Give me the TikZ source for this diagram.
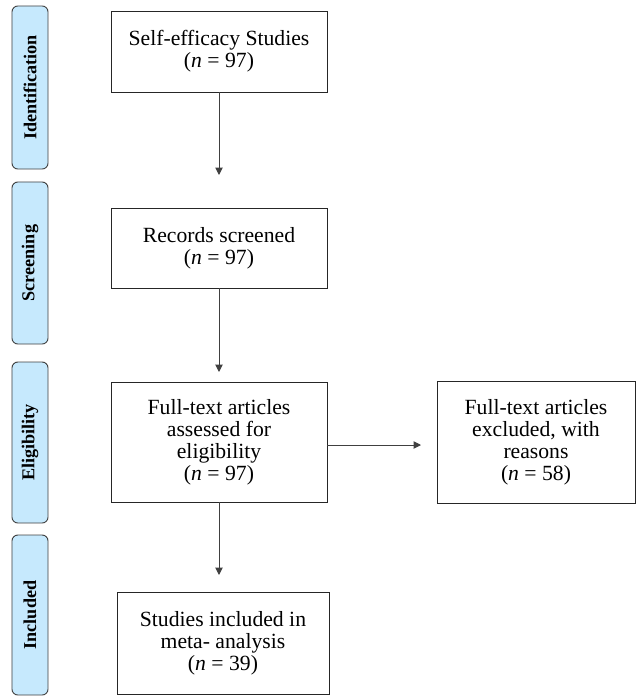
\documentclass[tikz,border=0pt]{standalone}
\usepackage{fontspec}
\setmainfont{Liberation Serif}
\usepackage{tikz}
\usetikzlibrary{arrows.meta, positioning}
\definecolor{stageblue}{RGB}{198,233,253}

\begin{document}
\begin{tikzpicture}[
        x=0.03cm,
        y=-0.03cm,
        stage/.style={draw=black!75,thick,fill=stageblue,rounded corners=5pt,rotate=90,minimum height=1.08cm,inner sep=0pt,font=\fontsize{15.5}{18}\selectfont\bfseries},
        box/.style={draw=black!85,line width=0.8pt,align=center,inner sep=0pt,font=\fontsize{18.5}{18.8}\selectfont},
        flow/.style={-{Triangle[length=2.2mm,width=2.2mm]},line width=0.8pt,black!75}
    ]
        \useasboundingbox (0,0) rectangle (636,697);
        % phases on the left
        \node[stage,minimum width=4.89cm] (ident) at (30,87.5) {Identification};
        \node[stage,minimum width=4.86cm] (screen) at (30,263) {Screening};
        \node[stage,minimum width=4.83cm] (elig) at (30,442.5) {Eligibility};
        \node[stage,minimum width=4.8cm] (incl) at (30,615) {Included};
        % flow boxes
        \node[box,minimum width=6.48cm,minimum height=2.43cm] (studies) at (219,51.5) {Self-efficacy Studies\\(\textit{n} = 97)};
        \node[box,minimum width=6.48cm,minimum height=2.4cm] (records) at (219,248) {Records screened\\(\textit{n} = 97)};
        \node[box,minimum width=6.48cm,minimum height=3.6cm] (assessed) at (219,442) {Full-text articles\\assessed for\\eligibility\\(\textit{n} = 97)};
        \node[box,minimum width=5.94cm,minimum height=3.66cm] (excluded) at (536,442) {Full-text articles\\excluded, with\\reasons\\(\textit{n} = 58)};
        \node[box,minimum width=6.36cm,minimum height=3.06cm] (included) at (223,643) {Studies included in\\meta- analysis\\(\textit{n} = 39)};
        % arrow ends
        \coordinate (e1) at (219,175);
        \coordinate (e2) at (219,372);
        \coordinate (e3) at (421,445);
        \coordinate (e4) at (219,575);
        \draw[flow] (studies.south) -- (e1);
        \draw[flow] (records.south) -- (e2);
        \draw[flow] (assessed.east |- e3) -- (e3);
        \draw[flow] (assessed.south) -- (e4);
    \end{tikzpicture}
\end{document}
